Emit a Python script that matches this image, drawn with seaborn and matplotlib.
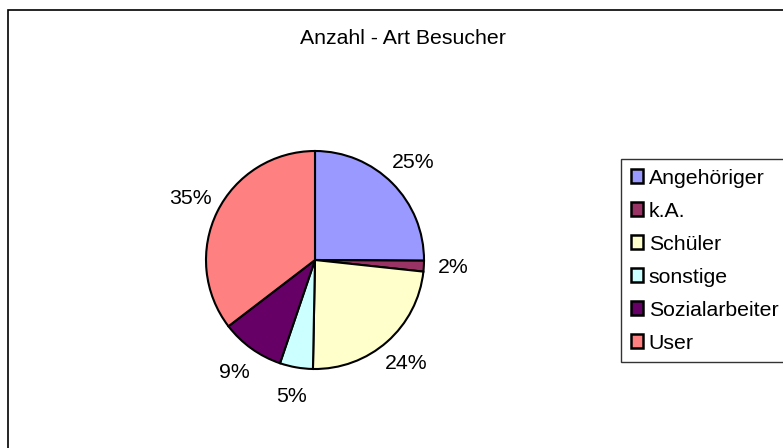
import numpy as np
import matplotlib
matplotlib.use("Agg")
import matplotlib.pyplot as plt
import seaborn as sns

# data
categories = ["Angehöriger", "k.A.", "Schüler", "sonstige", "Sozialarbeiter", "User"]
shares = [25.1, 1.6, 23.6, 4.9, 9.4, 35.4]
colors = ["#9999FF", "#993366", "#FFFFCC", "#CCFFFF", "#660066", "#FF8080"]
title = "Anzahl - Art Besucher"

sns.set_theme(style="white")
plt.rcParams["font.family"] = ["Liberation Sans", "DejaVu Sans"]
plt.rcParams["text.color"] = "black"

W, H = 783, 448
fs = 15.3
fig = plt.figure(figsize=(W / 100, H / 100), dpi=100)
fig.patch.set_facecolor("white")

# outer chart border (runs off the right and bottom edge)
border = plt.Rectangle((8 / W, -0.1), 1.2, 1 - 10 / H + 0.1, transform=fig.transFigure,
                       fill=False, edgecolor="black", linewidth=1.2, clip_on=False)
fig.patches.append(border)

# pie axes: center (315, 260), radius 109 px
cx, cy, r = 315, 260, 109
ax = fig.add_axes([(cx - r) / W, (H - cy - r) / H, 2 * r / W, 2 * r / H])
wedges, _, autotexts = ax.pie(
    shares, colors=colors, startangle=90, counterclock=False, radius=1,
    autopct="%1.0f%%", pctdistance=1.27,
    wedgeprops=dict(edgecolor="black", linewidth=1.5),
    textprops=dict(fontsize=fs, color="black"),
)
ax.set_xlim(-1, 1)
ax.set_ylim(-1, 1)
ax.set_aspect("equal")
ax.axis("off")

fig.text(403 / W, 1 - 38 / H, title, ha="center", va="center", fontsize=fs, color="black")

leg = fig.legend(
    wedges, categories, loc="upper left",
    bbox_to_anchor=(621 / W, 1 - 159 / H),
    frameon=True, fancybox=False, shadow=False, fontsize=fs,
    handlelength=0.6, handleheight=0.6, handletextpad=0.25,
    labelspacing=0.66, borderpad=0.45, borderaxespad=0,
)
leg.get_frame().set_edgecolor("black")
leg.get_frame().set_linewidth(1.0)
for h in leg.legend_handles:
    h.set_linewidth(1.8)
for t in leg.get_texts():
    t.set_color("black")

fig.savefig("out.png", dpi=100)
